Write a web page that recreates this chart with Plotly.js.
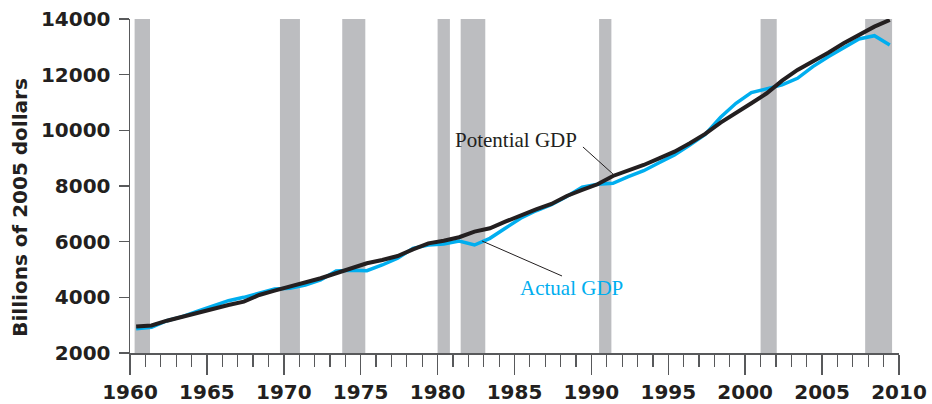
<!DOCTYPE html>
<html>
<head>
<meta charset="utf-8">
<script src="https://cdn.plot.ly/plotly-3.0.1.min.js"></script>
<style>
  html, body { margin: 0; padding: 0; background: #ffffff; }
  #chart { width: 932px; height: 404px; }
</style>
</head>
<body>
<div id="chart"></div>
<script>
// Years (values plotted at mid-year)
const years = [
  1960,1961,1962,1963,1964,1965,1966,1967,1968,1969,
  1970,1971,1972,1973,1974,1975,1976,1977,1978,1979,
  1980,1981,1982,1983,1984,1985,1986,1987,1988,1989,
  1990,1991,1992,1993,1994,1995,1996,1997,1998,1999,
  2000,2001,2002,2003,2004,2005,2006,2007,2008,2009
];

// Potential GDP, billions of 2005 dollars
const potentialGDP = [
  2950,2990,3160,3305,3450,3605,3725,3845,4085,4240,
  4385,4525,4685,4865,5045,5225,5340,5485,5725,5940,
  6035,6160,6360,6480,6720,6960,7163,7354,7641,7857,
  8062,8360,8550,8755,8995,9233,9535,9870,10280,10613,
  10972,11332,11785,12169,12467,12791,13128,13426,13725,13966
];

// Actual (real) GDP, billions of 2005 dollars
const actualGDP = [
  2875,2925,3160,3305,3500,3690,3880,4000,4165,4300,
  4325,4445,4625,4950,4970,4957,5162,5402,5762,5880,
  5917,6025,5880,6120,6480,6840,7110,7330,7620,7954,
  8062,8098,8335,8550,8838,9115,9474,9850,10470,10972,
  11354,11486,11630,11870,12288,12647,12949,13283,13400,13067
];

// Recession periods (shaded bars)
const recessionStart = [1960.3, 1969.75, 1973.8, 1980.0, 1981.5, 1990.5, 2001.0, 2007.8];
const recessionEnd   = [1961.3, 1971.05, 1975.3, 1980.8, 1983.1, 1991.3, 2002.05, 2009.55];

const yTickVals = [2000,4000,6000,8000,10000,12000,14000];
const xTickVals = [1960,1965,1970,1975,1980,1985,1990,1995,2000,2005,2010];

const yTitle = 'Billions of 2005 dollars';

const midYear = 0.4;
const xs = years.map(y => y + midYear);

const axisColor = '#58595b';
const inkColor = '#231f20';
const blue = '#00aeef';
const barColor = '#bcbdc0';
const tickFont = {family: 'DejaVu Sans', size: 20, color: inkColor, weight: 'bold'};

const shapes = recessionStart.map((s, i) => ({
  type: 'rect', xref: 'x', yref: 'y', layer: 'below',
  x0: s, x1: recessionEnd[i], y0: 2000, y1: 14000,
  fillcolor: barColor, line: {width: 0}
}));

// Leader lines for the labels
shapes.push({type: 'line', xref: 'x', yref: 'y', x0: 1989.45, y0: 9402, x1: 1991.4, y1: 8432,
             line: {color: inkColor, width: 1}});
shapes.push({type: 'line', xref: 'x', yref: 'y', x0: 1988.09, y0: 4767, x1: 1982.89, y1: 6024,
             line: {color: inkColor, width: 1}});

const traces = [
  {x: xs, y: actualGDP, type: 'scatter', mode: 'lines', name: 'Actual GDP',
   line: {color: blue, width: 3.5}, hoverinfo: 'x+y'},
  {x: xs, y: potentialGDP, type: 'scatter', mode: 'lines', name: 'Potential GDP',
   line: {color: inkColor, width: 4}, hoverinfo: 'x+y'}
];

const layout = {
  width: 932, height: 404,
  margin: {l: 130, r: 33, t: 19, b: 51},
  paper_bgcolor: '#ffffff', plot_bgcolor: '#ffffff',
  showlegend: false,
  xaxis: {
    range: [1960, 2010], tickmode: 'array', tickvals: xTickVals,
    ticktext: xTickVals.map(String),
    ticks: 'outside', ticklen: 20, tickwidth: 1.5, tickcolor: axisColor,
    showline: true, linecolor: axisColor, linewidth: 1.5,
    showgrid: false, zeroline: false, tickfont: tickFont,
    minor: {tick0: 1960, dtick: 1, ticks: 'outside', ticklen: 12, tickwidth: 1.2,
            tickcolor: axisColor, showgrid: false},
    fixedrange: true
  },
  yaxis: {
    range: [2000, 14000], tickmode: 'array', tickvals: yTickVals,
    ticktext: yTickVals.map(String),
    ticks: 'outside', ticklen: 10, tickwidth: 1.5, tickcolor: axisColor,
    showline: true, linecolor: axisColor, linewidth: 1.5,
    showgrid: false, zeroline: false, tickfont: tickFont,
    ticklabelstandoff: 4,
    fixedrange: true
  },
  shapes: shapes,
  annotations: [
    {xref: 'paper', yref: 'paper', x: -0.143, y: 0.435, xanchor: 'center', yanchor: 'middle',
     text: yTitle, textangle: -90, showarrow: false,
     font: {family: 'DejaVu Sans', size: 20, color: inkColor, weight: 'bold'}},
    {x: 1985.1, y: 9654, xref: 'x', yref: 'y', text: 'Potential GDP', showarrow: false,
     font: {family: 'Liberation Serif', size: 21, color: inkColor}},
    {x: 1988.71, y: 4336, xref: 'x', yref: 'y', text: 'Actual GDP', showarrow: false,
     font: {family: 'Liberation Serif', size: 21, color: blue}}
  ]
};

Plotly.newPlot('chart', traces, layout, {displayModeBar: false, staticPlot: true});
</script>
</body>
</html>
